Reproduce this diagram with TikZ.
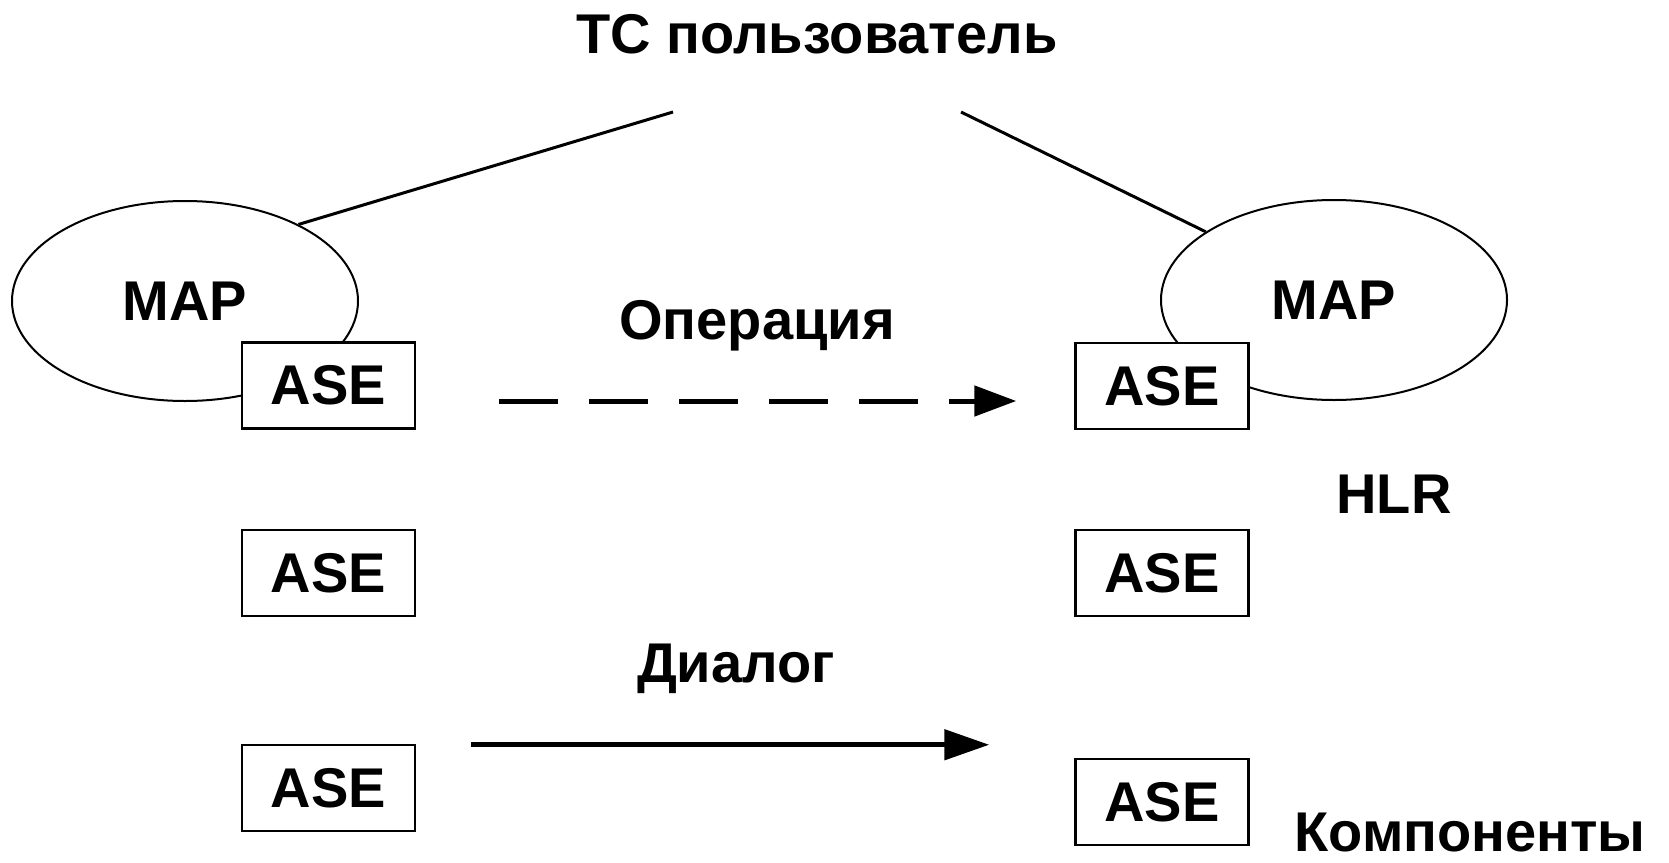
\documentclass[tikz,border=0pt]{standalone}
\usepackage{fontspec}
\setmainfont{Liberation Sans}
\usetikzlibrary{shapes.geometric,arrows.meta}
\begin{document}
\begin{tikzpicture}[x=1pt,y=-1pt,
  font=\fontsize{56pt}{60pt}\selectfont\bfseries,
  mapell/.style={draw, line width=2pt, ellipse, minimum width=346pt, minimum height=200pt, inner sep=0pt},
  asebox/.style={draw, line width=2.5pt, fill=white, rectangle, minimum width=173pt, minimum height=86pt, inner sep=0pt},
  lbl/.style={anchor=base, inner sep=0pt},
  link/.style={line width=3pt},
  opArrow/.style={line width=5pt, dash pattern=on 59pt off 31pt, -{Triangle[length=42pt,width=30pt]}},
  dlgArrow/.style={line width=5pt, -{Triangle[length=45pt,width=30pt]}}]
\useasboundingbox (0,0) rectangle (1669,862);

\node[lbl] (title) at (817,53) {ТС пользователь};
\node[mapell] (lmap) at (185,301) {MAP};
\node[mapell] (rmap) at (1334,300) {MAP};

\node[asebox] (lase1) at (328.5,385.5) {ASE};
\node[asebox] (lase2) at (328.5,573) {ASE};
\node[asebox] (lase3) at (328.5,788) {ASE};
\node[asebox] (rase1) at (1162,386) {ASE};
\node[asebox] (rase2) at (1162,573) {ASE};
\node[asebox] (rase3) at (1162,802) {ASE};

\node[lbl] (oper) at (757,339) {Операция};
\node[lbl] (dial) at (736,682) {Диалог};
\node[lbl] (hlr) at (1394,513) {HLR};
\node[lbl] (comp) at (1470,851) {Компоненты};

\coordinate (tl) at (673,112);
\coordinate (tr) at (961,112);
\draw[link] (tl) -- (lmap.34);
\draw[link] (tr) -- (rmap.152);

\draw[opArrow] ([xshift=83pt,yshift=-15.5pt]lase1.east) -- ([xshift=-58pt,yshift=-15pt]rase1.west);
\draw[dlgArrow] ([xshift=55pt,yshift=-1pt]lase3.north east) -- ([xshift=-85pt,yshift=-1pt]lase3.north east -| rase3.west);
\end{tikzpicture}
\end{document}
